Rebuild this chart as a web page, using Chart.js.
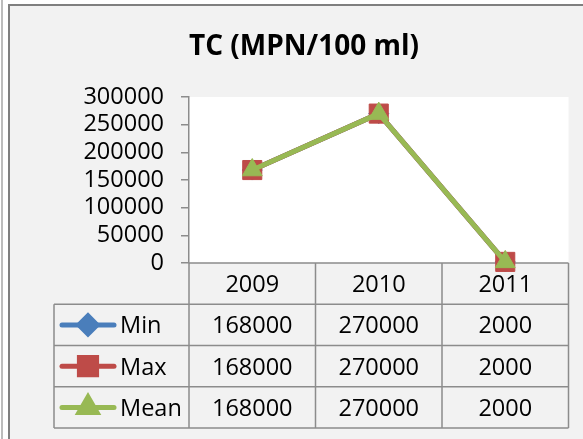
<!DOCTYPE html>
<html>
<head>
<meta charset="utf-8">
<script src="https://cdn.jsdelivr.net/npm/chart.js@4.4.1/dist/chart.umd.min.js"></script>
<style>
  html, body { margin: 0; padding: 0; background: #fff; }
  canvas { display: block; }
</style>
</head>
<body>
<canvas id="chart" width="583" height="439"></canvas>
<script>
// === TC (MPN/100 ml) — line chart with Excel-style data table ===

const TITLE = 'TC (MPN/100 ml)';
const YEARS = ['2009', '2010', '2011'];
const SERIES_NAMES = ['Min', 'Max', 'Mean'];
const MIN_VALUES = [168000, 270000, 2000];
const MAX_VALUES = [168000, 270000, 2000];
const MEAN_VALUES = [168000, 270000, 2000];
const Y_MIN = 0;
const Y_MAX = 300000;
const Y_STEP = 50000;

// styles (kept apart from the data)
const FONT = "'Open Sans', sans-serif";
const TEXT_SIZE = 23.5;
const LINE_COLORS = ['#4a7ebb', '#be4b48', '#98b954'];
const MARKERS = ['rectRot', 'rect', 'triangle'];
const MARKER_RADIUS = [10, 13.5, 11.5];
const GRID = '#8c8c8c';

const SERIES_VALUES = [MIN_VALUES, MAX_VALUES, MEAN_VALUES];

// background, outer frame, white plot area
const framePlugin = {
  id: 'frame',
  beforeDraw(chart) {
    const { ctx, chartArea: a, width, height } = chart;
    ctx.save();
    ctx.fillStyle = '#ffffff';
    ctx.fillRect(0, 0, width, height);
    ctx.fillStyle = '#f2f2f2';
    ctx.fillRect(8, 4, width - 8, height - 4);
    ctx.strokeStyle = '#a6a6a6';
    ctx.lineWidth = 1.5;
    ctx.beginPath();
    ctx.moveTo(2, 0);
    ctx.lineTo(2, height);
    ctx.stroke();
    ctx.strokeStyle = '#7f7f7f';
    ctx.lineWidth = 2;
    ctx.beginPath();
    ctx.moveTo(9, height);
    ctx.lineTo(9, 5);
    ctx.lineTo(width, 5);
    ctx.stroke();
    ctx.fillStyle = '#ffffff';
    ctx.fillRect(a.left, a.top, a.right - a.left, a.bottom - a.top);
    ctx.restore();
  },
  afterDraw(chart) {
    const { ctx } = chart;
    ctx.save();
    ctx.fillStyle = '#000';
    ctx.font = `bold 28px ${FONT}`;
    ctx.textAlign = 'center';
    ctx.textBaseline = 'alphabetic';
    ctx.fillText(TITLE, 304, 55);
    ctx.restore();
  },
};

// data table under the plot, columns taken from the category scale
const tablePlugin = {
  id: 'dataTable',
  beforeDatasetsDraw(chart) {
    const { ctx, chartArea: a } = chart;
    const xs = chart.scales.x;
    const n = YEARS.length;
    const centers = YEARS.map((_, i) => xs.getPixelForValue(i));
    const edges = [a.left];
    for (let i = 1; i < n; i++) edges.push((centers[i - 1] + centers[i]) / 2);
    edges.push(a.right);

    const top = a.bottom;
    const rowH = 41.25;
    const legendLeft = 54;
    const bottom = top + rowH * (SERIES_NAMES.length + 1);

    ctx.save();
    ctx.strokeStyle = GRID;
    ctx.lineWidth = 1.5;
    ctx.beginPath();
    ctx.moveTo(a.left, top);
    ctx.lineTo(a.right, top);
    for (let r = 1; r <= SERIES_NAMES.length + 1; r++) {
      ctx.moveTo(legendLeft, top + rowH * r);
      ctx.lineTo(a.right, top + rowH * r);
    }
    ctx.moveTo(legendLeft, top + rowH);
    ctx.lineTo(legendLeft, bottom);
    edges.forEach(x => {
      ctx.moveTo(x, top);
      ctx.lineTo(x, bottom);
    });
    ctx.stroke();

    const capH = TEXT_SIZE * 0.714;
    ctx.fillStyle = '#000';
    ctx.font = `${TEXT_SIZE}px ${FONT}`;
    ctx.textBaseline = 'alphabetic';
    ctx.textAlign = 'center';
    YEARS.forEach((y, i) => ctx.fillText(y, centers[i], top + rowH / 2 + capH / 2));

    SERIES_NAMES.forEach((name, r) => {
      const yc = top + rowH * (r + 1.5);
      ctx.textAlign = 'center';
      SERIES_VALUES[r].forEach((v, i) => ctx.fillText(String(v), centers[i], yc + capH / 2));

      // legend key
      ctx.strokeStyle = LINE_COLORS[r];
      ctx.lineWidth = 5;
      ctx.lineCap = 'round';
      ctx.beginPath();
      ctx.moveTo(62, yc);
      ctx.lineTo(114, yc);
      ctx.stroke();
      ctx.fillStyle = LINE_COLORS[r];
      Chart.helpers.drawPoint(ctx, {
        pointStyle: MARKERS[r],
        radius: MARKER_RADIUS[r] * 0.9,
        borderWidth: 1,
        rotation: 0,
      }, 88, yc);
      ctx.fill();
      ctx.fillStyle = '#000';
      ctx.textAlign = 'left';
      ctx.fillText(name, 120, yc + capH / 2);
    });
    ctx.restore();
  },
};

const datasets = SERIES_NAMES.map((name, i) => ({
  label: name,
  data: SERIES_VALUES[i],
  borderColor: LINE_COLORS[i],
  backgroundColor: LINE_COLORS[i],
  borderWidth: 5,
  borderCapStyle: 'round',
  borderJoinStyle: 'round',
  pointStyle: MARKERS[i],
  pointRadius: MARKER_RADIUS[i],
  pointBorderWidth: 1,
  pointBorderColor: LINE_COLORS[i],
  pointBackgroundColor: LINE_COLORS[i],
  tension: 0,
  clip: false,
  order: SERIES_NAMES.length - i,
}));

new Chart(document.getElementById('chart'), {
  type: 'line',
  data: { labels: YEARS, datasets },
  options: {
    responsive: false,
    devicePixelRatio: 1,
    animation: false,
    layout: { padding: { left: 0, top: 97, right: 13, bottom: 176 } },
    plugins: {
      legend: { display: false },
      title: { display: false },
      tooltip: { enabled: false },
    },
    scales: {
      x: {
        type: 'category',
        offset: true,
        display: false,
      },
      y: {
        min: Y_MIN,
        max: Y_MAX,
        afterFit: scale => { scale.width = 189; },
        ticks: {
          stepSize: Y_STEP,
          autoSkip: false,
          padding: 17,
          color: '#000',
          font: { family: FONT, size: TEXT_SIZE },
          callback: v => String(v),
        },
        grid: {
          drawOnChartArea: false,
          drawTicks: true,
          tickLength: 8,
          color: GRID,
          lineWidth: 1.5,
        },
        border: { display: true, color: GRID, width: 1.5 },
      },
    },
  },
  plugins: [framePlugin, tablePlugin],
});
</script>
</body>
</html>
